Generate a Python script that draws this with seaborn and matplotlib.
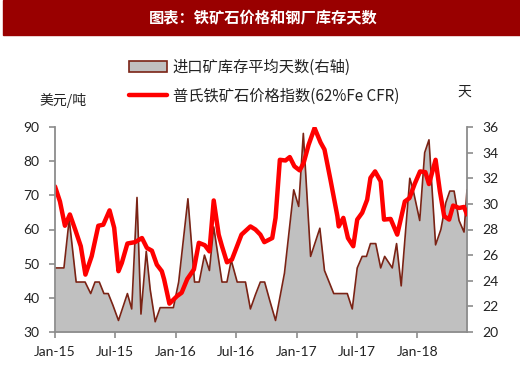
import matplotlib
matplotlib.use('Agg')
import matplotlib.pyplot as plt
from matplotlib.patches import Patch, Rectangle
from matplotlib.lines import Line2D
import pandas as pd
import seaborn as sns

# 进口矿库存平均天数 (right axis, days)
stock_dates = ['2015-01-01', '2015-01-28', '2015-02-13', '2015-03-06', '2015-04-02', '2015-04-19',
               '2015-05-02', '2015-05-15', '2015-05-29', '2015-06-11', '2015-06-25', '2015-07-12',
               '2015-08-08', '2015-08-21', '2015-09-06', '2015-09-18', '2015-10-04', '2015-10-16',
               '2015-10-31', '2015-11-15', '2015-12-25', '2016-01-10', '2016-02-07', '2016-02-27',
               '2016-03-12', '2016-03-28', '2016-04-12', '2016-04-25', '2016-05-20', '2016-06-04',
               '2016-06-17', '2016-07-05', '2016-07-30', '2016-08-14', '2016-08-29', '2016-09-13',
               '2016-09-26', '2016-10-11', '2016-10-29', '2016-11-25', '2016-12-23', '2017-01-07',
               '2017-01-21', '2017-02-12', '2017-03-12', '2017-03-26', '2017-04-23', '2017-06-03',
               '2017-06-18', '2017-07-03', '2017-07-18', '2017-07-31', '2017-08-12', '2017-08-28',
               '2017-09-12', '2017-09-24', '2017-10-17', '2017-10-30', '2017-11-13', '2017-12-09',
               '2017-12-19', '2018-01-08', '2018-01-23', '2018-02-05', '2018-02-25', '2018-03-13',
               '2018-03-28', '2018-04-09', '2018-04-22', '2018-05-07', '2018-05-22', '2018-05-31']
stock_days = [25.0, 25.0, 28.8, 23.9, 23.9, 23.0,
              23.9, 23.9, 23.0, 23.0, 22.1, 20.9,
              23.0, 21.8, 30.5, 21.4, 26.3, 23.3,
              20.8, 21.9, 21.9, 23.9, 30.4, 23.9,
              23.9, 26.0, 24.8, 28.2, 23.9, 23.9,
              25.6, 23.9, 23.9, 21.8, 22.9, 23.9,
              23.9, 22.5, 20.9, 24.6, 31.1, 29.8,
              35.5, 25.9, 28.1, 24.8, 23.0, 23.0,
              21.8, 25.0, 25.9, 25.9, 26.9, 26.9,
              25.0, 25.9, 25.0, 26.9, 23.6, 32.0,
              31.1, 28.7, 34.0, 35.0, 26.8, 28.0,
              30.1, 31.0, 31.0, 28.7, 27.8, 31.1]

# 普氏铁矿石价格指数 (left axis, USD/t)
price_dates = ['2015-01-01', '2015-01-16', '2015-01-31', '2015-02-15', '2015-03-03', '2015-03-20',
               '2015-04-03', '2015-04-22', '2015-05-12', '2015-05-27', '2015-06-15', '2015-06-29',
               '2015-07-12', '2015-07-22', '2015-08-08', '2015-08-31', '2015-09-21', '2015-10-06',
               '2015-10-21', '2015-11-05', '2015-11-20', '2015-11-27', '2015-12-13', '2016-01-05',
               '2016-01-19', '2016-02-05', '2016-02-25', '2016-03-11', '2016-03-29', '2016-04-12',
               '2016-04-25', '2016-05-10', '2016-05-20', '2016-06-04', '2016-06-19', '2016-07-18',
               '2016-08-14', '2016-08-29', '2016-09-13', '2016-09-25', '2016-10-19', '2016-10-29',
               '2016-11-11', '2016-11-28', '2016-12-11', '2016-12-25', '2017-01-10', '2017-01-22',
               '2017-02-06', '2017-02-24', '2017-03-14', '2017-03-26', '2017-04-13', '2017-05-04',
               '2017-05-08', '2017-05-22', '2017-06-05', '2017-06-21', '2017-07-03', '2017-07-18',
               '2017-08-02', '2017-08-12', '2017-08-26', '2017-09-12', '2017-09-22', '2017-10-12',
               '2017-11-01', '2017-11-24', '2017-12-08', '2017-12-24', '2018-01-09', '2018-01-25',
               '2018-02-05', '2018-02-25', '2018-03-10', '2018-03-23', '2018-04-07', '2018-04-19',
               '2018-05-07', '2018-05-22', '2018-05-31']
price_index = [72.6, 68.2, 61.1, 64.4, 60.0, 55.1,
               46.8, 52.2, 61.1, 61.4, 65.6, 60.5,
               47.8, 50.2, 55.9, 56.3, 57.5, 54.6,
               53.8, 49.7, 47.8, 45.4, 38.3, 40.5,
               41.5, 45.5, 48.3, 56.1, 55.4, 53.6,
               68.5, 58.5, 55.1, 50.4, 51.2, 58.5,
               60.9, 60.0, 58.5, 56.3, 57.5, 63.4,
               80.4, 80.2, 81.2, 78.5, 77.3, 79.5,
               84.8, 89.7, 85.5, 83.4, 74.6, 63.9,
               60.9, 63.4, 57.5, 55.1, 62.9, 64.9,
               68.7, 75.1, 77.0, 74.1, 62.9, 63.1,
               58.5, 68.2, 69.2, 73.4, 77.0, 76.8,
               73.3, 80.4, 71.2, 63.9, 62.9, 67.0,
               66.3, 66.6, 64.4]

x_ticks = ['2015-01-01', '2015-07-01', '2016-01-01', '2016-07-01', '2017-01-01', '2017-07-01', '2018-01-01']
x_tick_labels = ['Jan-15', 'Jul-15', 'Jan-16', 'Jul-16', 'Jan-17', 'Jul-17', 'Jan-18']

stock = pd.DataFrame({'date': pd.to_datetime(stock_dates), 'days': stock_days})
price = pd.DataFrame({'date': pd.to_datetime(price_dates), 'price': price_index})

sns.set_style('white')
plt.rcParams['font.family'] = ['Lato', 'Noto Sans CJK SC', 'DejaVu Sans']
cjk = ['Noto Sans CJK SC', 'DejaVu Sans']

axis_grey = '#8c8c8c'
edge_red = '#7a2315'
line_red = '#ff0000'

fig = plt.figure(figsize=(5.2, 3.66), dpi=100)
ax = fig.add_axes([55 / 520, 1 - 332 / 366, 412 / 520, 205 / 366])
ax2 = ax.twinx()

# stock days: grey area on right axis
ax2.fill_between(stock['date'], stock['days'], 20, color='#c0c0c0', lw=0)
sns.lineplot(data=stock, x='date', y='days', ax=ax2, color=edge_red, linewidth=1.2)

# price index: thick red line on left axis, drawn above
sns.lineplot(data=price, x='date', y='price', ax=ax, color=line_red, linewidth=3.2)
ax.set_zorder(ax2.get_zorder() + 1)
ax.patch.set_visible(False)

ax.set_xlim(pd.Timestamp('2015-01-01'), pd.Timestamp('2018-05-31'))
ax.set_ylim(30, 90)
ax2.set_ylim(20, 36)
ax.set_yticks(range(30, 91, 10))
ax2.set_yticks(range(20, 37, 2))
ax.set_xticks(pd.to_datetime(x_ticks))
ax.set_xticklabels(x_tick_labels)
ax.set_xlabel('')
ax.set_ylabel('')
ax2.set_ylabel('')

for a in (ax, ax2):
    a.spines['top'].set_visible(False)
    for s in a.spines.values():
        s.set_color(axis_grey)
        s.set_linewidth(1.3)
ax.spines['right'].set_visible(False)
ax2.spines['left'].set_visible(False)
ax2.spines['bottom'].set_visible(False)

ax.tick_params(axis='y', which='both', left=True, direction='out', length=4, width=1.2,
               color=axis_grey, pad=7, labelsize=10, labelcolor='#222222')
ax2.tick_params(axis='y', which='both', right=True, direction='out', length=4, width=1.2,
                color=axis_grey, pad=7, labelsize=10, labelcolor='#222222')
ax.tick_params(axis='x', bottom=True, direction='out', length=4, width=1.2,
               color=axis_grey, pad=6, labelsize=10, labelcolor='#222222')

# title bar
fig.patches.append(Rectangle((3 / 520, 1 - 35 / 366), 517 / 520, 35 / 366,
                             transform=fig.transFigure, color='#990000', zorder=0))
fig.text(263 / 520, 1 - 18 / 366, '图表：铁矿石价格和钢厂库存天数', color='white',
         fontsize=11, fontweight='bold', ha='center', va='center', family=cjk)

# axis unit labels
fig.text(63 / 520, 1 - 100 / 366, '美元/吨', fontsize=10, ha='center', va='center',
         family=cjk, color='#222222')
fig.text(464 / 520, 1 - 92 / 366, '天', fontsize=10, ha='center', va='center',
         family=cjk, color='#222222')

# legend
handles = [Patch(facecolor='#c0c0c0', edgecolor=edge_red, linewidth=1.2),
           Line2D([0], [0], color=line_red, linewidth=3.2)]
labels = ['进口矿库存平均天数(右轴)', '普氏铁矿石价格指数(62%Fe CFR)']
fig.legend(handles, labels, loc='upper left', bbox_to_anchor=(129 / 520, 1 - 59 / 366),
           frameon=False, borderpad=0, borderaxespad=0, handlelength=2.5, handletextpad=0.35,
           labelspacing=0.75, prop={'family': cjk, 'size': 11}, labelcolor='#222222')

fig.savefig('out.png', dpi=100)
